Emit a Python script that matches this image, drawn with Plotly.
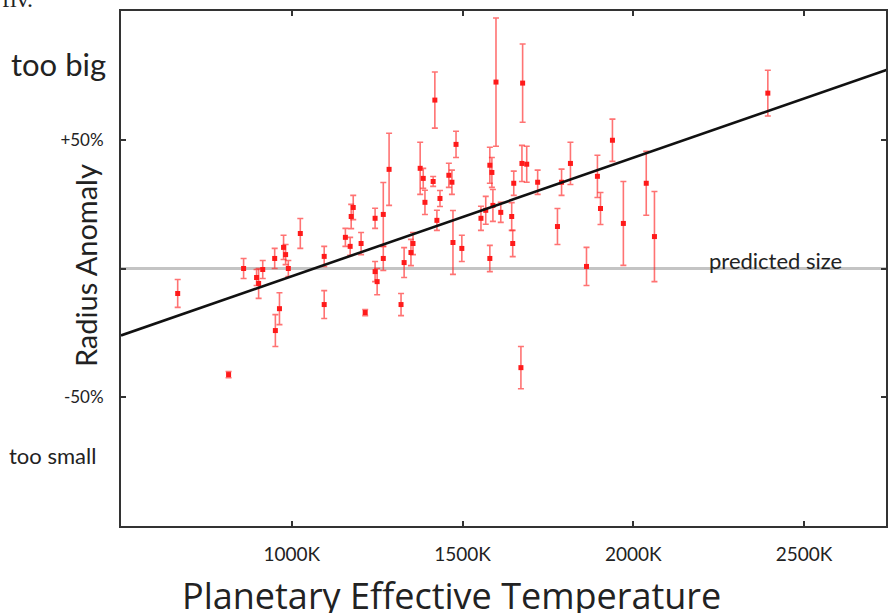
import plotly.graph_objects as go

# Planet effective temperature (K), radius anomaly (%), and 1-sigma error (%)
temp_k = [666, 815, 859, 897, 903, 915, 950, 964, 952, 976, 982, 990, 1025, 1095, 1095,
          1157, 1171, 1180, 1174, 1203, 1215, 1244, 1244, 1250, 1268, 1268, 1285, 1320, 1329,
          1349, 1355, 1376, 1385, 1390, 1414, 1419, 1425, 1434, 1460, 1469, 1481, 1472, 1498,
          1554, 1568, 1580, 1586, 1589, 1612, 1580, 1598, 1650, 1644, 1647, 1671, 1674, 1688,
          1676, 1720, 1778, 1790, 1816, 1863, 1895, 1904, 1939, 1971, 2038, 2062, 2394]
anomaly_pct = [-9.7, -41.2, 0.0, -3.5, -5.8, -0.4, 3.9, -15.6, -24.1, 8.2, 5.4, 0.0, 13.6, 4.7, -14.0,
               12.1, 8.6, 23.7, 20.2, 9.7, -17.1, 19.5, -1.2, -5.1, 21.0, 3.9, 38.5, -14.0, 2.3,
               6.2, 9.7, 38.9, 35.0, 25.7, 33.8, 65.4, 18.7, 27.2, 36.2, 33.5, 48.2, 10.1, 7.8,
               19.5, 22.6, 40.1, 37.3, 24.5, 21.8, 3.9, 72.4, 33.1, 20.2, 9.7, -38.5, 40.8, 40.5,
               72.0, 33.5, 16.3, 33.5, 40.8, 0.8, 35.8, 23.3, 49.8, 17.5, 33.1, 12.4, 68.1]
error_pct = [5.4, 1.2, 3.9, 3.1, 5.8, 3.5, 3.9, 6.2, 6.2, 4.7, 3.9, 3.1, 5.8, 3.9, 5.4,
             3.5, 3.5, 4.7, 4.7, 4.3, 1.2, 3.9, 3.9, 5.1, 12.4, 4.7, 14.0, 4.3, 5.8,
             5.1, 4.3, 10.1, 3.9, 4.7, 1.9, 10.9, 3.9, 3.1, 4.7, 4.7, 5.1, 12.4, 5.1,
             4.7, 5.4, 7.0, 5.8, 6.2, 3.9, 5.1, 24.9, 4.7, 5.4, 5.1, 8.2, 7.0, 7.0,
             15.2, 4.7, 7.0, 5.1, 8.2, 7.4, 8.2, 6.2, 8.2, 16.3, 12.4, 17.5, 8.9]

# Fitted trend line
trend_temp = [500, 2750]
trend_pct = [-26.0, 77.5]

# Predicted size (zero anomaly) reference line
predicted_temp = [500, 2750]
predicted_pct = [0, 0]

x_tick_vals = [1000, 1500, 2000, 2500]
x_tick_text = ["1000K", "1500K", "2000K", "2500K"]
y_tick_vals = [-50, 0, 50]
y_tick_text = ["-50%", "", "+50%"]

FONT = "Lato"

fig = go.Figure()

fig.add_trace(go.Scatter(
    x=predicted_temp, y=predicted_pct, mode="lines",
    line=dict(color="#c4c4c4", width=3), hoverinfo="skip", showlegend=False))

fig.add_trace(go.Scatter(
    x=temp_k, y=anomaly_pct, mode="markers",
    marker=dict(symbol="square", size=5, color="#ff1a1a"),
    error_y=dict(type="data", array=error_pct, visible=True,
                 color="rgba(255,40,40,0.65)", thickness=1.6, width=3),
    showlegend=False))

fig.add_trace(go.Scatter(
    x=trend_temp, y=trend_pct, mode="lines",
    line=dict(color="#111111", width=2.6), showlegend=False))

axis_common = dict(showgrid=False, zeroline=False, showline=True, linecolor="#333333",
                   linewidth=2, mirror="ticks", ticks="inside", ticklen=5, tickwidth=2,
                   tickcolor="#333333")

fig.update_xaxes(range=[500, 2740], tickvals=x_tick_vals, ticktext=x_tick_text,
                 tickfont=dict(family=FONT, size=19, color="#222222"),
                 ticklabelstandoff=10, **axis_common)
fig.update_yaxes(range=[-100, 100], tickvals=y_tick_vals, ticktext=y_tick_text,
                 tickfont=dict(family=FONT, size=17, color="#222222"),
                 ticklabelstandoff=12, **axis_common)

W, H = 889, 613
L, R, T, B = 121, 1, 11, 87
pw, ph = W - L - R, H - T - B


def px(x):
    return (x - L) / pw


def py(y):
    return (H - B - y) / ph


annos = [
    dict(text="too big", x=px(108), y=py(64), xanchor="right", yanchor="middle",
         font=dict(family=FONT, size=31, color="#222222")),
    dict(text="too small", x=px(7), y=py(455), xanchor="left", yanchor="middle",
         font=dict(family=FONT, size=22, color="#222222")),
    dict(text="Radius Anomaly", x=px(85), y=py(266), xanchor="center", yanchor="middle",
         textangle=-90, font=dict(family=FONT, size=29, color="#222222")),
    dict(text="Planetary Effective Temperature", x=px(452), y=py(595), xanchor="center",
         yanchor="middle", font=dict(family="Open Sans", size=36, color="#222222")),
    dict(text="predicted size", x=px(777), y=py(260), xanchor="center", yanchor="middle",
         font=dict(family=FONT, size=22, color="#222222")),
    dict(text="fiv.", x=px(0), y=py(-1), xanchor="left", yanchor="middle",
         font=dict(family="Liberation Serif", size=24, color="#222222")),
]
for a in annos:
    a.update(xref="paper", yref="paper", showarrow=False)

fig.update_layout(
    width=W, height=H, margin=dict(l=L, r=R, t=T, b=B),
    paper_bgcolor="white", plot_bgcolor="white",
    annotations=annos, showlegend=False)

post = ("document.body.style.margin='0';document.body.style.padding='0';"
        "document.body.style.overflow='hidden';"
        "document.documentElement.style.overflow='hidden';"
        "var gd=document.getElementById('{plot_id}');"
        "Plotly.relayout(gd,{width:889,height:613});")

fig.write_html("out.html", config={"responsive": False, "displayModeBar": False},
               post_script=post)
